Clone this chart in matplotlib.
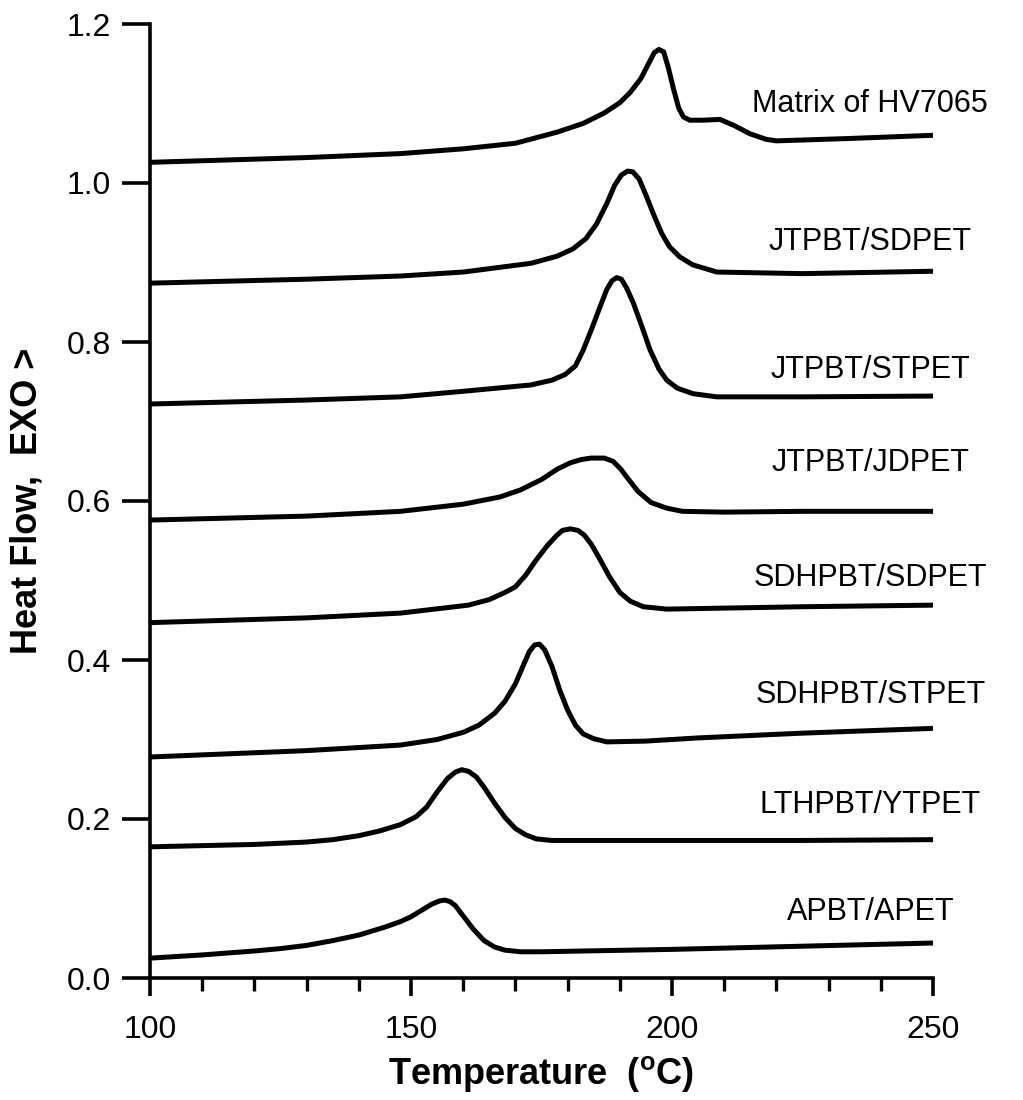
import matplotlib
matplotlib.use("Agg")
import matplotlib.pyplot as plt

plt.rcParams['font.family'] = ['Liberation Sans', 'DejaVu Sans']

# ---- data ----
labels = ["APBT/APET", "LTHPBT/YTPET", "SDHPBT/STPET", "SDHPBT/SDPET",
          "JTPBT/JDPET", "JTPBT/STPET", "JTPBT/SDPET", "Matrix of HV7065"]

t_apbt = [100, 110, 120, 125, 130, 135, 140, 145, 148, 150, 152, 154, 155.5, 156.5, 157.5, 158.5, 160, 162, 164, 166, 168, 171, 175, 200, 225, 250]
y_apbt = [0.025, 0.029, 0.034, 0.037, 0.041, 0.047, 0.054, 0.064, 0.071, 0.077, 0.085, 0.093, 0.097, 0.098, 0.096, 0.091, 0.078, 0.061, 0.047, 0.039, 0.035, 0.033, 0.033, 0.036, 0.040, 0.044]

t_lth = [100, 120, 130, 135, 140, 144, 148, 151, 153, 155, 157, 158.5, 159.7, 161, 162.5, 164, 166, 168, 170, 172, 174, 177, 200, 225, 250]
y_lth = [0.165, 0.168, 0.171, 0.174, 0.179, 0.185, 0.193, 0.203, 0.215, 0.234, 0.251, 0.259, 0.262, 0.260, 0.253, 0.240, 0.220, 0.202, 0.188, 0.180, 0.175, 0.173, 0.173, 0.173, 0.174]

t_sdh_st = [100, 130, 148, 155, 160, 163, 166, 168, 170, 171.5, 172.7, 173.7, 174.6, 175.6, 177, 178.5, 180, 181.5, 183, 185, 187.5, 195, 205, 225, 250]
y_sdh_st = [0.278, 0.286, 0.293, 0.300, 0.309, 0.318, 0.333, 0.348, 0.370, 0.393, 0.411, 0.419, 0.420, 0.413, 0.392, 0.362, 0.337, 0.318, 0.307, 0.301, 0.297, 0.298, 0.302, 0.308, 0.314]

t_sdh_sd = [100, 130, 148, 161, 165, 168, 170, 172, 174, 176, 177.8, 179, 180.5, 182, 183.2, 184.5, 186, 188, 190, 192, 194.5, 199, 225, 250]
y_sdh_sd = [0.447, 0.453, 0.459, 0.469, 0.476, 0.485, 0.492, 0.507, 0.526, 0.543, 0.556, 0.563, 0.565, 0.563, 0.557, 0.546, 0.529, 0.505, 0.485, 0.474, 0.467, 0.464, 0.467, 0.469]

t_jt_jd = [100, 130, 148, 160, 167, 171, 175, 178, 180.5, 182.5, 184.5, 187, 188.7, 190.2, 191.7, 193.5, 196, 199, 202, 210, 225, 250]
y_jt_jd = [0.576, 0.581, 0.587, 0.596, 0.605, 0.614, 0.627, 0.640, 0.648, 0.652, 0.654, 0.654, 0.650, 0.640, 0.627, 0.612, 0.598, 0.591, 0.587, 0.586, 0.587, 0.587]

t_jt_st = [100, 130, 148, 160, 173, 177, 179.5, 181.5, 183, 184.7, 186.2, 187.5, 188.5, 189.4, 190.3, 191.3, 192.6, 194.2, 195.8, 197.5, 199, 201, 204, 208.6, 225, 250]
y_jt_st = [0.722, 0.727, 0.731, 0.738, 0.746, 0.752, 0.759, 0.770, 0.790, 0.818, 0.844, 0.866, 0.877, 0.881, 0.879, 0.868, 0.849, 0.820, 0.790, 0.766, 0.752, 0.742, 0.735, 0.731, 0.731, 0.732]

t_jt_sd = [100, 130, 148, 160, 173, 178, 181, 183.5, 185.5, 187.5, 189, 190.3, 191.5, 192.5, 193.7, 195, 196.5, 198, 199.5, 201.5, 204, 208.6, 225, 250]
y_jt_sd = [0.874, 0.879, 0.883, 0.888, 0.899, 0.908, 0.917, 0.930, 0.948, 0.974, 0.997, 1.010, 1.015, 1.014, 1.005, 0.985, 0.960, 0.937, 0.920, 0.907, 0.897, 0.888, 0.886, 0.889]

t_matrix = [100, 130, 148, 160, 170, 178, 183, 187, 190, 192, 194, 195.5, 196.6, 197.5, 198.4, 199.3, 200.3, 201.3, 202.2, 203.4, 206, 209.2, 212, 214.9, 218, 220, 234, 250]
y_matrix = [1.026, 1.032, 1.037, 1.043, 1.050, 1.064, 1.075, 1.088, 1.101, 1.114, 1.131, 1.150, 1.164, 1.168, 1.165, 1.145, 1.118, 1.094, 1.083, 1.079, 1.079, 1.080, 1.072, 1.062, 1.055, 1.053, 1.056, 1.060]

label_y = [0.083, 0.218, 0.356, 0.503, 0.648, 0.765, 0.926, 1.099]
label_x = 238

x_ticks = [100, 150, 200, 250]
y_ticks = [0.0, 0.2, 0.4, 0.6, 0.8, 1.0, 1.2]

series_t = [t_apbt, t_lth, t_sdh_st, t_sdh_sd, t_jt_jd, t_jt_st, t_jt_sd, t_matrix]
series_y = [y_apbt, y_lth, y_sdh_st, y_sdh_sd, y_jt_jd, y_jt_st, y_jt_sd, y_matrix]

# ---- figure ----
fig = plt.figure(figsize=(10.23, 11.0), dpi=100)
ax = fig.add_axes([150 / 1023, 122 / 1100, (933 - 150) / 1023, (978 - 24) / 1100])

for t, y in zip(series_t, series_y):
    ax.plot(t, y, color='black', lw=3.6, solid_joinstyle='round', solid_capstyle='butt')

for lab, ly in zip(labels, label_y):
    ax.text(label_x, ly, lab, ha='center', va='center', fontsize=22, clip_on=False)

ax.set_xlim(100, 250)
ax.set_ylim(0, 1.2)
ax.spines['top'].set_visible(False)
ax.spines['right'].set_visible(False)
for s in ('left', 'bottom'):
    ax.spines[s].set_linewidth(2.6)

ax.set_xticks(x_ticks)
ax.set_xticks(range(100, 251, 10), minor=True)
ax.set_yticks(y_ticks)
ax.set_yticklabels([f"{v:.1f}" for v in y_ticks])
ax.tick_params(axis='x', which='major', direction='out', length=13, width=2.6, labelsize=23, pad=14)
ax.tick_params(axis='x', which='minor', direction='out', length=9, width=2.4)
ax.tick_params(axis='y', which='major', direction='out', length=20, width=2.6, labelsize=23, pad=8)

ax.set_xlabel("Temperature  ($\\mathregular{^o}$C)", fontsize=26, fontweight='bold', labelpad=6)
ax.set_ylabel("Heat Flow,  EXO >", fontsize=26, fontweight='bold', labelpad=16)

fig.savefig("out.png", dpi=100)
